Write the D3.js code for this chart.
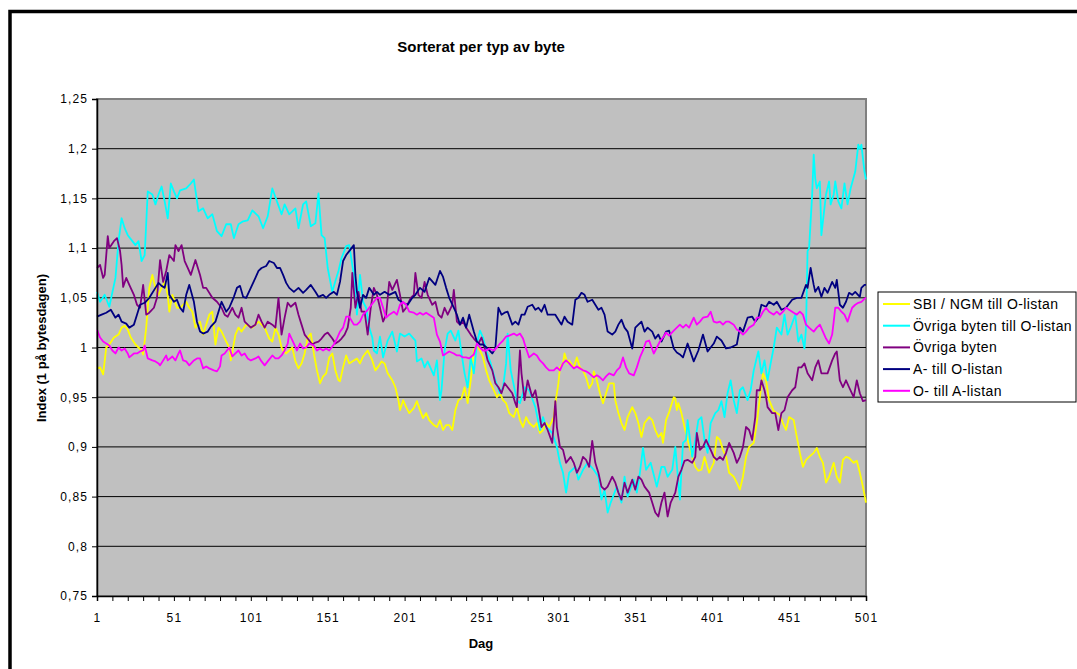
<!DOCTYPE html>
<html lang="sv">
    <head>
        <meta charset="utf-8">
        <title>Sorterat per typ av byte</title>
        <script type="text/javascript" src="https://d3js.org/d3.v7.min.js"></script>
        <style type="text/css">
          body { margin: 0; background: #fff; }
          text { font-family: "Liberation Sans", Arial, sans-serif; }
        </style>
    </head>
    <body>
        <svg width="1077" height="669"></svg>
        <script type="text/javascript">

            // values: [dag, index]
            const sbiNgmTillO = [[1,0.979],[3,0.98],[5,0.973],[7,1.0],[9,1.003],[12,1.01],[15,1.013],[17,1.02],[19,1.022],[21,1.018],[23,1.01],[26,1.003],[28,1.0],[30,0.997],[31,0.993],[33,1.02],[35,1.06],[37,1.073],[39,1.06],[41,1.053],[43,1.06],[45,1.066],[47,1.053],[48,1.036],[50,1.053],[53,1.04],[55,1.04],[59,1.046],[61,1.04],[63,1.036],[65,1.02],[68,1.026],[70,1.013],[72,1.023],[74,1.033],[76,1.036],[78,1.003],[80,1.02],[82,1.016],[85,1.006],[87,1.0],[88,0.987],[91,1.013],[93,1.02],[95,1.016],[98,1.023],[102,1.02],[104,1.023],[106,1.026],[108,1.023],[110,1.02],[113,1.009],[115,1.006],[117,1.02],[119,1.013],[121,1.0],[122,0.997],[124,0.994],[126,0.997],[128,1.0],[130,0.986],[132,0.979],[134,0.984],[136,0.994],[138,1.01],[140,1.014],[142,0.994],[144,0.977],[146,0.964],[148,0.971],[150,0.974],[152,0.99],[154,0.994],[156,0.977],[158,0.967],[159,0.966],[161,0.98],[163,0.992],[165,0.984],[168,0.987],[170,0.989],[172,0.984],[174,0.991],[177,0.997],[180,0.987],[182,0.977],[184,0.981],[186,0.986],[188,0.984],[190,0.974],[193,0.967],[195,0.96],[197,0.947],[198,0.937],[200,0.947],[202,0.94],[204,0.934],[207,0.939],[209,0.946],[211,0.937],[213,0.929],[215,0.934],[217,0.927],[220,0.922],[222,0.92],[224,0.927],[226,0.917],[228,0.922],[230,0.922],[232,0.917],[234,0.937],[236,0.947],[238,0.949],[240,0.96],[242,0.944],[244,0.967],[246,0.997],[248,1.002],[250,0.997],[252,0.99],[254,0.977],[256,0.967],[259,0.957],[261,0.95],[263,0.954],[265,0.947],[267,0.944],[269,0.934],[272,0.93],[274,0.94],[276,0.927],[278,0.92],[280,0.93],[282,0.924],[285,0.92],[287,0.924],[289,0.914],[291,0.917],[293,0.924],[295,0.92],[298,0.93],[299,0.944],[301,0.964],[302,0.98],[304,0.984],[305,0.994],[307,0.984],[308,0.987],[311,0.98],[313,0.99],[315,0.98],[317,0.977],[319,0.97],[321,0.959],[323,0.964],[324,0.976],[326,0.967],[328,0.954],[330,0.944],[332,0.954],[334,0.964],[337,0.964],[338,0.947],[340,0.934],[342,0.924],[344,0.917],[346,0.93],[349,0.94],[351,0.934],[353,0.924],[355,0.91],[357,0.924],[360,0.93],[362,0.927],[364,0.917],[366,0.91],[368,0.914],[369,0.904],[371,0.927],[373,0.935],[376,0.95],[377,0.949],[378,0.937],[379,0.944],[381,0.934],[383,0.92],[385,0.907],[388,0.89],[390,0.88],[392,0.876],[394,0.877],[396,0.89],[399,0.874],[402,0.884],[404,0.91],[406,0.907],[408,0.897],[410,0.89],[412,0.874],[415,0.87],[417,0.864],[419,0.857],[421,0.87],[423,0.89],[425,0.9],[428,0.904],[430,0.924],[432,0.95],[434,0.974],[436,0.967],[438,0.947],[441,0.936],[443,0.934],[445,0.932],[447,0.924],[449,0.917],[451,0.93],[454,0.927],[456,0.91],[458,0.894],[460,0.88],[462,0.887],[464,0.89],[467,0.894],[469,0.899],[471,0.89],[473,0.884],[475,0.864],[477,0.87],[480,0.884],[482,0.87],[484,0.864],[486,0.887],[488,0.89],[490,0.889],[493,0.884],[495,0.886],[497,0.874],[499,0.86],[501,0.844]];

            const ovrigaTillO = [[1,1.056],[3,1.046],[6,1.053],[9,1.041],[13,1.07],[15,1.107],[17,1.13],[19,1.12],[21,1.113],[24,1.107],[26,1.103],[28,1.107],[30,1.087],[32,1.093],[34,1.157],[37,1.154],[39,1.144],[41,1.154],[43,1.162],[45,1.147],[47,1.13],[49,1.165],[51,1.157],[53,1.15],[55,1.158],[59,1.16],[62,1.165],[64,1.169],[67,1.137],[70,1.14],[73,1.13],[76,1.134],[79,1.117],[82,1.112],[85,1.124],[88,1.124],[90,1.11],[93,1.124],[96,1.127],[99,1.128],[102,1.138],[106,1.132],[109,1.12],[112,1.132],[115,1.16],[118,1.147],[121,1.134],[123,1.144],[126,1.134],[130,1.14],[132,1.12],[135,1.144],[137,1.147],[140,1.122],[143,1.125],[145,1.155],[147,1.113],[149,1.11],[151,1.08],[154,1.056],[156,1.067],[158,1.077],[160,1.09],[163,1.102],[165,1.103],[168,1.073],[170,1.033],[172,1.073],[174,1.046],[176,1.04],[178,1.02],[180,1.01],[181,0.997],[183,0.994],[185,1.011],[187,0.99],[190,1.007],[193,1.016],[196,0.996],[198,1.014],[201,1.011],[204,1.014],[208,1.007],[209,0.986],[212,0.989],[214,0.98],[216,0.986],[220,0.972],[222,0.987],[224,0.947],[225,0.957],[227,0.997],[229,1.014],[231,1.017],[234,1.007],[236,1.017],[238,0.994],[240,0.974],[242,0.96],[244,0.99],[246,0.974],[248,1.004],[250,1.017],[252,1.01],[254,0.997],[257,0.984],[260,0.967],[263,0.954],[265,0.96],[267,0.984],[268,1.014],[270,0.977],[274,0.947],[276,0.944],[279,0.96],[282,0.957],[286,0.94],[289,0.917],[291,0.93],[293,0.92],[297,0.914],[300,0.9],[302,0.884],[304,0.874],[306,0.854],[308,0.874],[312,0.88],[314,0.867],[317,0.877],[320,0.884],[324,0.877],[327,0.87],[329,0.847],[331,0.857],[333,0.834],[335,0.844],[339,0.86],[342,0.844],[344,0.87],[346,0.85],[350,0.867],[352,0.854],[354,0.874],[356,0.899],[358,0.877],[361,0.884],[365,0.86],[368,0.88],[370,0.88],[372,0.87],[375,0.877],[377,0.9],[379,0.864],[380,0.847],[382,0.904],[384,0.907],[385,0.927],[388,0.89],[390,0.907],[392,0.927],[394,0.93],[396,0.907],[398,0.894],[400,0.924],[403,0.934],[405,0.937],[407,0.946],[409,0.93],[411,0.954],[413,0.967],[415,0.947],[417,0.934],[419,0.957],[421,0.96],[424,0.947],[426,0.957],[428,0.977],[430,0.99],[431,0.996],[433,0.974],[435,0.987],[437,0.967],[439,0.984],[441,1.0],[443,1.02],[446,1.013],[448,1.033],[450,1.013],[452,1.02],[455,1.033],[457,1.006],[459,1.013],[461,0.999],[462,1.02],[463,1.097],[464,1.1],[466,1.154],[467,1.194],[468,1.17],[469,1.16],[471,1.167],[472,1.113],[473,1.127],[475,1.154],[477,1.167],[478,1.144],[480,1.154],[481,1.167],[483,1.147],[485,1.14],[487,1.165],[489,1.144],[491,1.16],[494,1.177],[496,1.204],[497,1.2],[498,1.204],[500,1.177],[501,1.169]];

            const ovrigaByten = [[1,1.08],[3,1.083],[5,1.07],[6,1.073],[8,1.112],[9,1.1],[12,1.107],[14,1.11],[16,1.097],[17,1.083],[18,1.061],[20,1.07],[22,1.063],[25,1.053],[27,1.043],[29,1.04],[31,1.063],[33,1.033],[35,1.035],[38,1.04],[40,1.05],[42,1.088],[44,1.066],[46,1.077],[48,1.093],[51,1.087],[52,1.103],[54,1.097],[56,1.103],[58,1.087],[60,1.08],[62,1.073],[65,1.088],[68,1.073],[70,1.06],[72,1.06],[76,1.05],[79,1.046],[82,1.04],[84,1.033],[86,1.031],[89,1.04],[91,1.033],[93,1.03],[95,1.04],[97,1.026],[99,1.023],[101,1.02],[104,1.023],[106,1.033],[108,1.026],[110,1.02],[112,1.026],[115,1.023],[117,1.02],[119,1.05],[121,1.013],[123,1.03],[125,1.045],[127,1.041],[130,1.045],[132,1.033],[134,1.023],[136,1.013],[138,1.009],[141,1.003],[143,1.005],[145,1.006],[147,1.009],[149,1.013],[151,1.015],[154,1.009],[156,1.004],[158,1.006],[160,1.009],[162,1.013],[164,1.02],[166,1.04],[167,1.075],[169,1.04],[171,1.056],[173,1.036],[175,1.036],[177,1.013],[179,1.04],[181,1.06],[183,1.053],[185,1.04],[187,1.026],[189,1.033],[191,1.066],[193,1.058],[196,1.068],[198,1.053],[200,1.036],[202,1.04],[205,1.05],[207,1.053],[208,1.075],[210,1.053],[212,1.05],[214,1.066],[216,1.053],[219,1.043],[221,1.046],[223,1.033],[225,1.03],[227,1.04],[229,1.033],[232,1.043],[233,1.058],[235,1.026],[237,1.023],[239,1.026],[241,1.02],[244,1.013],[246,1.009],[249,1.004],[251,1.01],[253,1.0],[255,0.987],[258,0.977],[260,0.964],[262,0.96],[264,0.954],[266,0.964],[268,0.96],[271,0.954],[273,0.944],[274,0.94],[276,0.997],[277,0.974],[279,0.947],[281,0.967],[284,0.95],[286,0.957],[288,0.94],[290,0.92],[292,0.924],[294,0.917],[297,0.904],[299,0.946],[300,0.92],[302,0.9],[304,0.897],[306,0.884],[309,0.89],[311,0.884],[313,0.874],[315,0.88],[317,0.89],[319,0.887],[321,0.88],[323,0.906],[325,0.884],[327,0.874],[329,0.86],[331,0.857],[333,0.86],[336,0.87],[338,0.864],[340,0.854],[342,0.847],[344,0.864],[346,0.854],[349,0.867],[351,0.857],[353,0.87],[355,0.867],[357,0.86],[360,0.854],[362,0.844],[364,0.834],[366,0.83],[368,0.844],[370,0.854],[372,0.83],[374,0.844],[377,0.854],[379,0.87],[381,0.877],[383,0.886],[385,0.887],[388,0.884],[390,0.89],[391,0.914],[393,0.897],[395,0.9],[397,0.907],[400,0.897],[402,0.89],[404,0.887],[406,0.89],[408,0.887],[410,0.894],[412,0.904],[415,0.894],[417,0.884],[419,0.89],[421,0.9],[423,0.92],[425,0.917],[427,0.907],[429,0.93],[430,0.957],[432,0.957],[433,0.967],[435,0.957],[436,0.95],[437,0.94],[440,0.934],[442,0.934],[444,0.917],[446,0.934],[448,0.937],[450,0.95],[453,0.957],[455,0.96],[457,0.98],[459,0.98],[461,0.984],[463,0.974],[466,0.967],[468,0.98],[470,0.987],[472,0.974],[474,0.974],[476,0.974],[479,0.987],[481,0.994],[482,0.996],[484,0.967],[486,0.96],[488,0.967],[490,0.96],[493,0.95],[495,0.967],[497,0.954],[499,0.946],[501,0.947]];

            const aTillO = [[1,1.031],[4,1.033],[7,1.035],[10,1.038],[13,1.03],[15,1.033],[17,1.026],[20,1.024],[22,1.02],[25,1.023],[27,1.033],[29,1.043],[32,1.045],[35,1.05],[39,1.06],[41,1.065],[43,1.062],[45,1.06],[47,1.075],[48,1.053],[51,1.046],[53,1.048],[55,1.04],[57,1.036],[59,1.053],[61,1.063],[64,1.046],[66,1.026],[68,1.016],[70,1.014],[73,1.016],[75,1.021],[78,1.026],[80,1.036],[82,1.046],[85,1.036],[87,1.04],[90,1.051],[92,1.06],[94,1.062],[96,1.051],[98,1.05],[101,1.06],[104,1.07],[106,1.077],[108,1.08],[111,1.082],[113,1.087],[116,1.085],[118,1.08],[120,1.08],[122,1.073],[124,1.065],[126,1.06],[129,1.056],[132,1.06],[135,1.055],[137,1.058],[140,1.063],[143,1.056],[145,1.051],[148,1.053],[150,1.05],[152,1.053],[155,1.056],[157,1.053],[159,1.066],[161,1.087],[163,1.093],[165,1.097],[168,1.103],[169,1.073],[170,1.056],[172,1.04],[174,1.053],[176,1.05],[178,1.06],[181,1.053],[183,1.056],[185,1.053],[188,1.056],[191,1.053],[195,1.056],[197,1.048],[200,1.045],[203,1.043],[206,1.05],[208,1.053],[211,1.06],[214,1.056],[217,1.07],[221,1.063],[224,1.077],[226,1.071],[228,1.06],[230,1.05],[233,1.04],[235,1.033],[237,1.023],[239,1.03],[241,1.02],[243,1.033],[246,1.016],[248,1.006],[250,1.003],[252,1.003],[255,0.999],[258,0.994],[260,0.999],[262,1.04],[264,1.033],[266,1.035],[268,1.036],[271,1.023],[273,1.026],[275,1.023],[277,1.033],[279,1.033],[281,1.041],[284,1.043],[286,1.038],[288,1.04],[290,1.036],[292,1.043],[294,1.033],[297,1.033],[299,1.033],[301,1.028],[303,1.023],[305,1.031],[307,1.026],[310,1.023],[312,1.048],[314,1.05],[316,1.055],[318,1.053],[320,1.046],[323,1.048],[325,1.043],[327,1.038],[329,1.04],[331,1.033],[333,1.016],[336,1.013],[338,1.016],[340,1.023],[342,1.028],[344,1.02],[346,1.016],[349,0.999],[351,1.02],[353,1.023],[355,1.026],[357,1.016],[359,1.02],[362,1.016],[364,1.009],[366,1.013],[368,1.006],[371,1.016],[373,1.017],[376,0.999],[378,0.995],[380,0.993],[382,0.99],[385,1.004],[389,0.986],[392,0.997],[395,1.013],[398,0.996],[402,1.004],[404,1.011],[407,1.007],[410,0.999],[413,1.0],[417,1.003],[419,1.02],[421,1.016],[424,1.03],[427,1.031],[429,1.026],[431,1.03],[433,1.043],[436,1.041],[438,1.046],[441,1.043],[443,1.046],[446,1.038],[449,1.04],[453,1.048],[456,1.05],[459,1.05],[462,1.063],[463,1.06],[465,1.08],[467,1.063],[468,1.056],[470,1.061],[472,1.051],[474,1.06],[476,1.055],[479,1.066],[481,1.06],[482,1.068],[484,1.043],[486,1.04],[488,1.046],[490,1.055],[492,1.053],[494,1.056],[497,1.051],[498,1.06],[500,1.063],[501,1.063]];

            const oTillA = [[1,1.018],[3,1.01],[5,1.006],[7,1.004],[9,1.002],[11,0.997],[13,0.994],[15,1.0],[17,0.997],[19,0.999],[21,0.994],[22,0.99],[25,0.994],[27,0.994],[29,0.996],[31,0.997],[32,1.002],[34,0.989],[37,0.987],[39,0.986],[41,0.984],[42,0.982],[44,0.987],[46,0.992],[47,0.987],[50,0.991],[52,0.987],[54,0.994],[55,0.997],[57,0.987],[59,0.986],[61,0.982],[64,0.987],[66,0.989],[68,0.989],[70,0.979],[72,0.981],[74,0.979],[77,0.977],[79,0.976],[81,0.981],[82,0.992],[84,0.994],[87,1.0],[89,0.991],[91,0.994],[93,0.997],[95,0.992],[97,0.994],[99,0.989],[101,0.987],[104,0.989],[106,0.991],[108,0.986],[110,0.982],[112,0.986],[115,0.992],[117,0.989],[119,0.989],[121,0.992],[123,0.997],[125,1.004],[126,1.014],[129,1.004],[131,0.997],[133,1.004],[135,0.999],[137,1.0],[139,1.004],[142,1.002],[144,0.997],[146,0.999],[148,0.997],[150,0.999],[152,0.997],[155,1.003],[157,1.009],[159,1.016],[161,1.02],[163,1.031],[165,1.031],[168,1.023],[170,1.023],[172,1.026],[174,1.033],[176,1.036],[178,1.04],[181,1.046],[183,1.05],[185,1.05],[187,1.04],[189,1.03],[191,1.033],[194,1.036],[196,1.033],[198,1.043],[200,1.046],[202,1.043],[204,1.036],[207,1.035],[209,1.033],[211,1.035],[213,1.033],[215,1.035],[217,1.033],[220,1.03],[222,1.013],[224,1.006],[226,0.992],[228,0.994],[230,0.996],[233,0.994],[235,0.992],[237,0.992],[239,0.99],[241,0.99],[243,0.989],[246,0.993],[248,1.004],[250,1.0],[252,0.997],[254,0.997],[256,0.999],[259,0.997],[261,1.0],[263,1.004],[265,1.007],[267,1.011],[269,1.012],[272,1.014],[274,1.012],[276,1.014],[278,1.009],[280,0.999],[282,0.99],[285,0.994],[287,0.992],[289,0.987],[291,0.984],[293,0.98],[295,0.977],[298,0.977],[300,0.98],[302,0.977],[304,0.984],[306,0.987],[308,0.984],[311,0.979],[313,0.981],[315,0.979],[317,0.977],[319,0.976],[321,0.974],[324,0.97],[326,0.972],[328,0.97],[330,0.967],[332,0.971],[334,0.974],[337,0.972],[339,0.977],[341,0.98],[343,0.99],[345,0.98],[347,0.974],[350,0.972],[352,0.98],[354,0.99],[356,0.997],[358,1.006],[360,1.007],[363,0.994],[365,1.0],[367,1.006],[369,1.01],[371,1.015],[373,1.012],[376,1.017],[378,1.02],[380,1.023],[382,1.02],[384,1.023],[386,1.02],[389,1.03],[391,1.023],[393,1.026],[395,1.03],[398,1.031],[400,1.036],[402,1.026],[404,1.025],[406,1.026],[408,1.023],[410,1.026],[412,1.026],[415,1.023],[417,1.018],[419,1.016],[421,1.013],[423,1.016],[425,1.02],[428,1.023],[430,1.03],[432,1.03],[434,1.036],[436,1.04],[438,1.036],[441,1.033],[443,1.036],[445,1.033],[447,1.036],[449,1.04],[451,1.038],[454,1.035],[456,1.033],[458,1.036],[460,1.033],[462,1.023],[464,1.02],[467,1.016],[469,1.02],[471,1.023],[473,1.016],[475,1.009],[477,1.004],[479,1.013],[480,1.026],[481,1.04],[483,1.04],[485,1.036],[487,1.033],[489,1.026],[492,1.04],[494,1.043],[496,1.045],[498,1.046],[500,1.049],[501,1.05]];

            const seriesNames = ["SBI / NGM till O-listan", "Övriga byten till O-listan", "Övriga byten", "A- till O-listan", "O- till A-listan"];
            const seriesColors = ["#FFFF00", "#00FFFF", "#800080", "#000080", "#FF00FF"];
            const seriesData = [sbiNgmTillO, ovrigaTillO, ovrigaByten, aTillO, oTillA];

            const yTicks = [0.75, 0.8, 0.85, 0.9, 0.95, 1, 1.05, 1.1, 1.15, 1.2, 1.25];
            const xLabels = [1, 51, 101, 151, 201, 251, 301, 351, 401, 451, 501];

            const svg = d3.select("svg");
            const plotL = 97, plotR = 866, plotT = 99, plotB = 596;
            const sv = d3.formatLocale({decimal: ",", thousands: " ", grouping: [3], currency: ["", " kr"]});
            const fmt = sv.format(".2~f");

            const x = d3.scaleLinear().domain([1, 501]).range([plotL, plotR]);
            const y = d3.scaleLinear().domain([0.75, 1.25]).range([plotB, plotT]);

            // outer chart frame (runs off the right and bottom edge)
            svg.append("rect")
               .attr("x", 10).attr("y", 11.5)
               .attr("width", 1100).attr("height", 700)
               .style("fill", "#fff")
               .style("stroke", "#000")
               .style("stroke-width", 3.5);

            // plot area
            svg.append("rect")
               .attr("x", plotL).attr("y", plotT)
               .attr("width", plotR - plotL).attr("height", plotB - plotT)
               .style("fill", "#C0C0C0")
               .style("stroke", "#808080")
               .style("stroke-width", 2);

            // gridlines
            svg.append("g")
               .selectAll("line")
               .data(yTicks.slice(1, -1))
               .join("line")
               .attr("x1", plotL).attr("x2", plotR)
               .attr("y1", d => y(d)).attr("y2", d => y(d))
               .style("stroke", "#000")
               .style("stroke-width", 1);

            // series lines
            const line = d3.line().x(d => x(d[0])).y(d => y(d[1]));
            svg.append("g")
               .selectAll("path")
               .data(seriesData)
               .join("path")
               .attr("d", line)
               .style("fill", "none")
               .style("stroke", (d, i) => seriesColors[i])
               .style("stroke-width", 1.8)
               .style("stroke-linejoin", "round");

            // y axis
            const yAxis = svg.append("g")
               .attr("transform", `translate(${plotL},0)`)
               .call(d3.axisLeft(y).tickValues(yTicks).tickFormat(fmt).tickSize(5).tickPadding(4));
            yAxis.select(".domain").style("stroke", "#000").style("stroke-width", 1.5);
            yAxis.selectAll("text").style("font-size", "12px").style("letter-spacing", "1.1px").style("fill", "#000");

            // x axis: tick every 10 days, label every 50
            const xAxis = svg.append("g")
               .attr("transform", `translate(0,${plotB})`)
               .call(d3.axisBottom(x).tickValues(d3.range(1, 502, 10))
                    .tickFormat(d => xLabels.includes(d) ? d : "")
                    .tickSize(5).tickPadding(12));
            xAxis.select(".domain").style("stroke", "#000").style("stroke-width", 1.5);
            xAxis.selectAll("text").style("font-size", "12px").style("letter-spacing", "1.1px").style("fill", "#000");

            // titles
            svg.append("text")
               .attr("x", 481).attr("y", 52)
               .attr("text-anchor", "middle")
               .style("font-size", "15px").style("font-weight", "bold")
               .text("Sorterat per typ av byte");

            svg.append("text")
               .attr("x", 481).attr("y", 648)
               .attr("text-anchor", "middle")
               .style("font-size", "13px").style("font-weight", "bold")
               .text("Dag");

            svg.append("text")
               .attr("transform", "translate(46,348) rotate(-90)")
               .attr("text-anchor", "middle")
               .style("font-size", "13px").style("font-weight", "bold")
               .text("Index (1 på bytesdagen)");

            // legend
            const legend = svg.append("g").attr("transform", "translate(878,292)");
            legend.append("rect")
               .attr("width", 198).attr("height", 110)
               .style("fill", "#fff").style("stroke", "#000").style("stroke-width", 1);
            const items = legend.selectAll("g.item")
               .data(seriesNames)
               .join("g")
               .attr("class", "item")
               .attr("transform", (d, i) => `translate(0,${12 + i * 21.7})`);
            items.append("line")
               .attr("x1", 5).attr("x2", 32)
               .style("stroke", (d, i) => seriesColors[i])
               .style("stroke-width", 2);
            items.append("text")
               .attr("x", 35).attr("dy", "0.35em")
               .style("font-size", "14px").style("letter-spacing", "0.4px")
               .text(d => d);

        </script>
    </body>
</html>
